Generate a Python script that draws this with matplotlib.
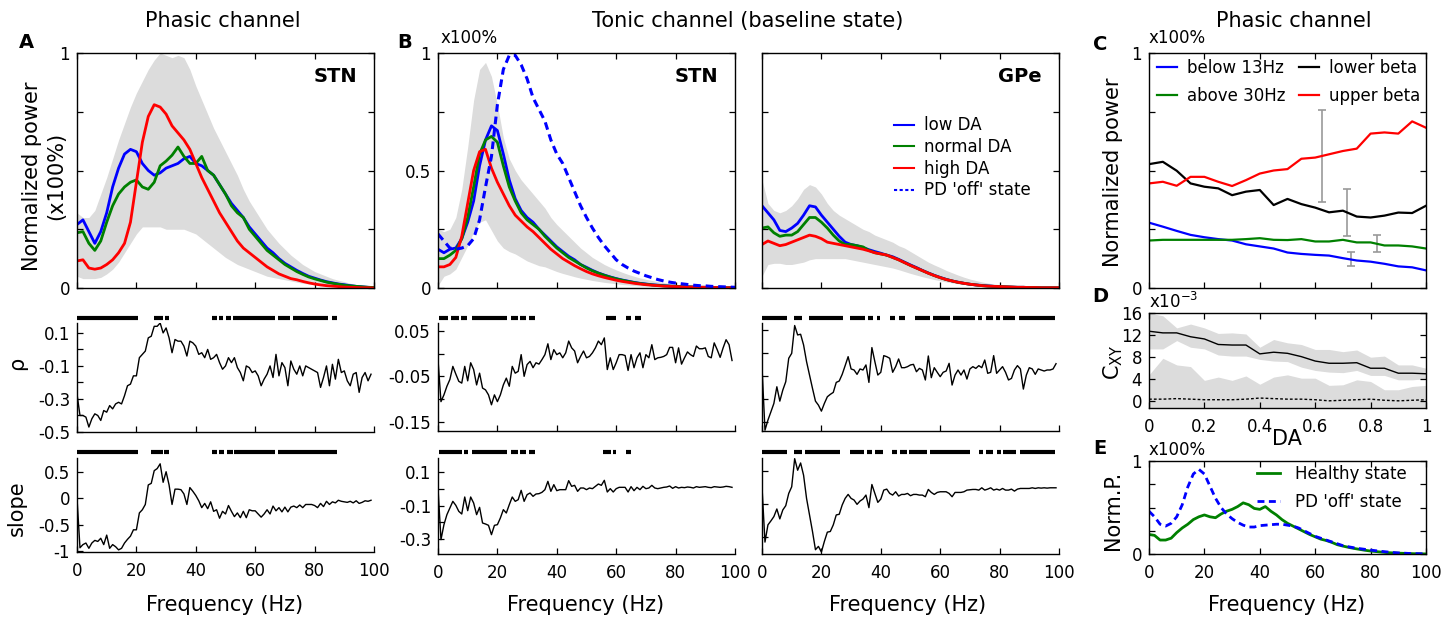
import numpy as np
import matplotlib
matplotlib.use('Agg')
import matplotlib.pyplot as plt
from matplotlib.lines import Line2D
import matplotlib.transforms as mtransforms

plt.rcParams['font.family'] = ['DejaVu Sans']
plt.rcParams['axes.unicode_minus'] = False

# ---------------- data ----------------
freq2 = np.arange(0, 101, 2)          # 2-Hz grid for spectra
freq1 = np.arange(0, 100)             # 1-Hz grid for correlations
DA = np.round(np.arange(0, 1.0001, 0.05), 2)

# Panel A (phasic, STN)
A_low = [0.27,0.29,0.24,0.19,0.24,0.32,0.43,0.51,0.57,0.59,0.58,0.53,0.50,0.48,0.49,0.51,0.52,0.53,0.55,0.56,
         0.53,0.52,0.50,0.48,0.44,0.40,0.36,0.33,0.30,0.26,0.23,0.20,0.17,0.15,0.125,0.105,0.09,0.075,0.062,0.05,
         0.042,0.034,0.027,0.022,0.017,0.014,0.01,0.007,0.005,0.003,0.002]
A_norm = [0.235,0.24,0.19,0.16,0.20,0.28,0.35,0.40,0.43,0.45,0.46,0.43,0.42,0.45,0.52,0.54,0.565,0.60,0.56,0.53,
          0.53,0.56,0.50,0.48,0.44,0.40,0.35,0.32,0.30,0.25,0.22,0.19,0.16,0.14,0.12,0.10,0.085,0.07,0.058,0.047,
          0.039,0.032,0.025,0.02,0.016,0.012,0.009,0.007,0.005,0.003,0.002]
A_high = [0.115,0.12,0.085,0.08,0.085,0.10,0.12,0.15,0.19,0.28,0.45,0.62,0.73,0.78,0.77,0.74,0.69,0.66,0.63,0.59,
          0.53,0.47,0.42,0.37,0.32,0.28,0.24,0.20,0.17,0.15,0.13,0.11,0.09,0.075,0.06,0.05,0.04,0.035,0.028,0.022,
          0.017,0.013,0.01,0.008,0.006,0.004,0.003,0.002,0.001,0.001,0.0]
A_band_hi = [0.32,0.30,0.30,0.33,0.40,0.47,0.55,0.63,0.70,0.77,0.83,0.88,0.93,0.97,1.0,0.99,0.98,0.99,0.98,0.93,
             0.86,0.80,0.74,0.68,0.63,0.58,0.53,0.48,0.42,0.37,0.33,0.29,0.25,0.22,0.19,0.165,0.14,0.12,0.10,0.085,
             0.07,0.06,0.05,0.04,0.033,0.027,0.02,0.015,0.01,0.006,0.003]
A_band_lo = [0.05,0.04,0.04,0.04,0.045,0.06,0.08,0.11,0.15,0.19,0.23,0.26,0.26,0.26,0.26,0.25,0.25,0.25,0.25,0.24,
             0.23,0.21,0.19,0.17,0.15,0.13,0.115,0.10,0.09,0.08,0.07,0.06,0.05,0.045,0.04,0.035,0.03,0.025,0.02,0.017,
             0.014,0.012,0.01,0.008,0.006,0.005,0.004,0.003,0.002,0.001,0.0]

A_rho = [-0.27,-0.40,-0.40,-0.41,-0.47,-0.42,-0.39,-0.40,-0.43,-0.37,
         -0.38,-0.34,-0.36,-0.33,-0.32,-0.33,-0.28,-0.22,-0.21,-0.16,
         -0.16,-0.05,-0.03,-0.01,0.07,0.08,0.14,0.14,0.16,0.10,
         0.13,0.07,-0.02,0.06,0.05,0.05,0.02,-0.04,0.05,0.04,
         0.02,-0.03,-0.02,-0.05,0.00,-0.06,-0.05,-0.03,-0.08,-0.12,
         -0.10,-0.05,-0.08,-0.05,-0.11,-0.14,-0.19,-0.10,-0.11,-0.14,
         -0.13,-0.16,-0.22,-0.18,-0.15,-0.10,-0.17,-0.03,-0.16,-0.08,
         -0.11,-0.22,-0.07,-0.12,-0.15,-0.10,-0.16,-0.10,-0.11,-0.12,
         -0.13,-0.14,-0.23,-0.17,-0.10,-0.22,-0.09,-0.18,-0.06,-0.14,
         -0.13,-0.19,-0.22,-0.15,-0.14,-0.26,-0.17,-0.14,-0.19,-0.15]
A_slope = [0.00,-0.94,-0.88,-0.85,-0.95,-0.85,-0.80,-0.82,-0.76,-0.88,
           -0.70,-0.95,-0.88,-0.92,-0.98,-0.95,-0.85,-0.78,-0.72,-0.60,
           -0.60,-0.28,-0.22,-0.12,0.25,0.28,0.52,0.56,0.65,0.30,
           0.50,0.25,-0.12,0.17,0.17,0.16,0.08,-0.12,0.20,0.13,
           0.05,-0.05,-0.18,-0.10,-0.20,-0.07,-0.25,-0.22,-0.38,-0.25,
           -0.30,-0.14,-0.25,-0.35,-0.28,-0.37,-0.25,-0.37,-0.22,-0.24,
           -0.24,-0.30,-0.36,-0.30,-0.22,-0.30,-0.15,-0.24,-0.18,-0.26,
           -0.17,-0.26,-0.17,-0.15,-0.18,-0.13,-0.18,-0.12,-0.12,-0.12,
           -0.14,-0.18,-0.10,-0.16,-0.06,-0.12,-0.07,-0.09,-0.04,-0.06,
           -0.07,-0.08,-0.06,-0.09,-0.05,-0.10,-0.08,-0.05,-0.06,-0.04]
A_rho_sig = [(0,20.5),(25.8,29),(29.6,31),(45.4,47),(47.8,49),(50,52),(52.6,66.6),(67.6,71.6),(72.6,84.6),(85.8,87.6)]
A_slope_sig = [(0,20.5),(24.8,28.8),(29.4,31),(45.4,47),(47.8,49.6),(50.4,52.4),(52.8,66.6),(67.6,87.6)]

# Panel B (tonic, STN)
S_low = [0.165,0.15,0.165,0.17,0.21,0.28,0.37,0.52,0.63,0.69,0.67,0.57,0.46,0.38,0.33,0.30,0.28,0.25,0.225,0.20,
         0.175,0.155,0.135,0.12,0.10,0.088,0.075,0.064,0.055,0.047,0.04,0.034,0.029,0.024,0.02,0.017,0.014,0.012,0.01,0.008,
         0.007,0.006,0.005,0.004,0.003,0.003,0.002,0.002,0.001,0.001,0.001]
S_norm = [0.125,0.125,0.14,0.16,0.21,0.30,0.43,0.57,0.63,0.645,0.62,0.52,0.43,0.37,0.32,0.29,0.27,0.25,0.22,0.195,
          0.17,0.15,0.13,0.115,0.10,0.085,0.073,0.063,0.054,0.046,0.039,0.033,0.028,0.023,0.019,0.016,0.013,0.011,0.009,0.008,
          0.007,0.006,0.005,0.004,0.003,0.003,0.002,0.002,0.001,0.001,0.001]
S_high = [0.09,0.09,0.10,0.13,0.22,0.36,0.50,0.58,0.59,0.51,0.45,0.40,0.35,0.31,0.285,0.26,0.24,0.215,0.19,0.165,
          0.145,0.125,0.11,0.095,0.082,0.07,0.06,0.052,0.045,0.039,0.033,0.028,0.024,0.02,0.017,0.014,0.012,0.01,0.008,0.007,
          0.006,0.005,0.004,0.004,0.003,0.003,0.002,0.002,0.001,0.001,0.001]
S_pd = [0.23,0.20,0.17,0.165,0.17,0.18,0.21,0.29,0.43,0.56,0.78,0.93,0.99,0.99,0.95,0.89,0.81,0.76,0.71,0.63,
        0.57,0.53,0.47,0.41,0.35,0.30,0.255,0.215,0.18,0.15,0.12,0.10,0.085,0.072,0.062,0.052,0.044,0.036,0.03,0.025,
        0.021,0.018,0.015,0.012,0.01,0.009,0.007,0.006,0.005,0.004,0.003]
S_band_hi = [0.25,0.24,0.25,0.30,0.42,0.60,0.80,0.93,0.96,0.90,0.78,0.64,0.55,0.50,0.46,0.43,0.40,0.37,0.34,0.30,
             0.27,0.245,0.22,0.195,0.17,0.15,0.13,0.115,0.10,0.088,0.077,0.067,0.058,0.05,0.043,0.037,0.032,0.027,0.023,0.019,
             0.016,0.013,0.011,0.009,0.007,0.006,0.005,0.004,0.003,0.002,0.001]
S_band_lo = [0.01,0.05,0.06,0.08,0.13,0.18,0.24,0.28,0.29,0.245,0.20,0.17,0.155,0.145,0.13,0.115,0.105,0.095,0.09,0.08,
             0.07,0.062,0.055,0.048,0.042,0.037,0.032,0.028,0.024,0.021,0.018,0.015,0.013,0.011,0.009,0.008,0.007,0.006,0.005,0.004,
             0.003,0.003,0.002,0.002,0.002,0.001,0.001,0.001,0.001,0.0,0.0]
S_rho = [-0.013,-0.106,-0.091,-0.072,-0.057,-0.028,-0.045,-0.061,-0.065,-0.028,
         -0.060,-0.020,-0.035,-0.069,-0.043,-0.076,-0.080,-0.091,-0.113,-0.091,
         -0.106,-0.091,-0.069,-0.054,-0.072,-0.028,-0.043,-0.039,-0.002,-0.050,
         -0.024,-0.017,-0.031,-0.020,-0.023,-0.013,-0.002,0.022,-0.013,0.009,
         -0.002,0.002,-0.009,0.002,0.028,0.013,0.006,-0.020,-0.006,0.006,
         -0.009,-0.006,0.002,0.013,0.028,0.020,0.035,-0.035,-0.009,-0.035,
         -0.020,-0.002,-0.002,-0.004,-0.037,-0.002,-0.031,-0.009,0.002,-0.031,
         -0.002,-0.009,0.020,-0.013,-0.009,-0.008,-0.006,-0.002,0.014,0.014,
         -0.020,0.013,-0.023,-0.009,0.004,-0.002,-0.006,0.017,0.011,0.011,
         0.013,-0.006,-0.009,0.024,0.009,-0.008,0.013,0.031,0.020,-0.015]
S_slope = [0.006,-0.304,-0.214,-0.154,-0.114,-0.074,-0.098,-0.134,-0.150,-0.048,
           -0.130,-0.048,-0.084,-0.154,-0.110,-0.204,-0.210,-0.218,-0.274,-0.218,
           -0.214,-0.174,-0.124,-0.144,-0.094,-0.048,-0.074,-0.064,-0.008,-0.074,
           -0.034,-0.024,-0.044,-0.030,-0.028,-0.020,-0.004,0.046,-0.014,0.026,
           -0.010,-0.004,-0.004,-0.004,0.050,0.016,0.022,-0.014,0.006,0.006,
           -0.004,0.006,0.002,0.016,0.030,0.022,0.052,-0.018,0.002,-0.018,
           0.002,0.010,0.010,0.010,-0.018,0.014,-0.010,0.010,-0.004,0.016,
           0.002,0.006,0.022,0.006,0.002,0.006,0.010,0.012,0.018,0.004,
           0.014,0.006,0.010,0.008,0.012,0.010,0.006,0.014,0.010,0.012,
           0.014,0.010,0.008,0.014,0.012,0.010,0.012,0.016,0.014,0.010]
S_rho_sig = [(0.3,3.2),(4.3,7.1),(7.7,9.6),(11.4,23.4),(24.5,26.8),(27.6,29.6),(30.5,32.8),(56.4,60),(63.4,65.1),(66.2,68.2)]
S_slope_sig = [(0.3,8.2),(8.8,10.2),(11.4,23.4),(24.5,26.8),(27.6,29.6),(30.5,32.8),(55.7,58.3),(58.9,60),(63.2,65.1)]

# Panel B (tonic, GPe)
G_low = [0.35,0.32,0.29,0.245,0.24,0.255,0.275,0.31,0.35,0.345,0.31,0.28,0.25,0.22,0.195,0.185,0.18,0.172,0.163,0.155,
         0.148,0.14,0.133,0.122,0.11,0.098,0.087,0.075,0.064,0.054,0.045,0.037,0.03,0.025,0.02,0.016,0.013,0.011,0.009,0.007,
         0.006,0.005,0.004,0.003,0.003,0.002,0.002,0.001,0.001,0.001,0.001]
G_norm = [0.255,0.26,0.235,0.22,0.225,0.225,0.24,0.27,0.30,0.30,0.28,0.255,0.225,0.20,0.185,0.185,0.18,0.175,0.16,0.15,
          0.145,0.14,0.13,0.12,0.108,0.096,0.085,0.074,0.063,0.053,0.044,0.036,0.03,0.024,0.02,0.016,0.013,0.01,0.008,0.007,
          0.006,0.005,0.004,0.003,0.003,0.002,0.002,0.001,0.001,0.001,0.001]
G_high = [0.185,0.20,0.19,0.18,0.185,0.195,0.205,0.215,0.225,0.22,0.21,0.195,0.19,0.185,0.18,0.175,0.17,0.165,0.158,0.15,
          0.145,0.14,0.13,0.12,0.108,0.096,0.085,0.074,0.063,0.053,0.044,0.036,0.03,0.024,0.02,0.016,0.013,0.01,0.008,0.007,
          0.006,0.005,0.004,0.003,0.003,0.002,0.002,0.001,0.001,0.001,0.001]
G_band_hi = [0.46,0.36,0.33,0.32,0.33,0.35,0.38,0.42,0.44,0.43,0.40,0.36,0.33,0.31,0.295,0.28,0.265,0.25,0.24,0.225,
             0.215,0.205,0.195,0.18,0.17,0.155,0.14,0.125,0.11,0.098,0.087,0.075,0.065,0.055,0.046,0.038,0.032,0.026,0.021,0.017,
             0.014,0.011,0.009,0.007,0.006,0.005,0.004,0.003,0.002,0.002,0.001]
G_band_lo = [0.05,0.10,0.105,0.105,0.10,0.10,0.105,0.11,0.12,0.125,0.125,0.125,0.125,0.125,0.125,0.12,0.115,0.11,0.105,0.10,
             0.095,0.09,0.085,0.078,0.07,0.062,0.055,0.048,0.042,0.036,0.031,0.026,0.022,0.018,0.015,0.012,0.01,0.008,0.006,0.005,
             0.004,0.003,0.003,0.002,0.002,0.001,0.001,0.001,0.0,0.0,0.0]
G_rho = [0.080,-0.473,-0.385,-0.313,-0.240,-0.095,-0.220,-0.124,-0.051,0.153,
         0.196,0.438,0.356,0.362,0.269,0.124,0.007,-0.109,-0.220,-0.255,
         -0.307,-0.240,-0.182,-0.161,-0.144,-0.057,-0.045,0.013,0.089,0.167,
         0.060,0.051,0.013,0.060,0.051,0.095,-0.057,0.246,0.124,0.007,
         0.031,0.176,0.167,0.153,0.031,0.080,0.147,0.071,0.071,0.080,
         0.095,0.100,0.036,0.065,0.051,-0.036,0.173,-0.016,0.071,0.031,
         -0.007,0.031,0.042,0.109,-0.080,0.007,0.051,0.007,0.051,-0.028,
         0.060,0.080,0.065,0.089,0.071,0.138,0.022,0.031,0.176,0.022,
         0.051,0.080,0.031,-0.036,-0.022,0.051,0.089,0.060,-0.115,0.007,
         0.071,0.060,0.013,0.060,0.051,0.042,0.051,0.051,0.060,0.106]
G_slope = [0.006,-0.328,-0.224,-0.200,-0.174,-0.128,-0.188,-0.134,-0.108,-0.034,
           0.006,0.176,0.106,0.150,0.076,-0.064,-0.164,-0.264,-0.374,-0.354,
           -0.388,-0.324,-0.268,-0.264,-0.224,-0.164,-0.160,-0.104,-0.064,-0.040,
           -0.064,-0.074,-0.100,-0.080,-0.068,-0.044,-0.120,0.020,-0.034,-0.088,
           -0.068,-0.014,-0.008,-0.034,-0.044,-0.024,-0.050,-0.040,-0.040,-0.034,
           -0.048,-0.040,-0.040,-0.044,-0.044,-0.054,-0.010,-0.028,-0.040,-0.028,
           -0.024,-0.024,-0.024,-0.034,-0.054,-0.028,-0.028,-0.028,-0.024,-0.014,
           -0.012,-0.010,-0.010,-0.014,0.000,-0.014,-0.008,0.000,-0.014,-0.008,
           -0.014,-0.004,-0.014,-0.014,-0.008,-0.020,-0.008,-0.004,-0.004,-0.004,
           -0.004,0.000,-0.004,0.000,-0.002,0.000,-0.002,0.000,0.000,0.000]
G_rho_sig = [(0,8.4),(10.9,13.4),(15.7,27.4),(29.7,34.7),(35.8,37.3),(38.6,39.8),(43.1,44.8),(46.2,48.2),(51.5,56.6),
             (57.7,63.3),(64.4,71.7),(72.8,74.2),(75.4,77.8),(78.7,80.1),(81.2,85.1),(86.6,98.5)]
G_slope_sig = [(0,8.4),(10.9,13.4),(14.6,26.3),(29.7,34.4),(35.2,37),(38.2,40.6),(43.8,45.5),(46.3,48.8),(49.4,55.4),
               (56.6,70),(73.1,74.5),(75.4,77.8),(79,80.6),(81.2,85.5),(86.8,98.5)]

# Panel C (power vs DA)
C_below13 = [0.278,0.261,0.243,0.226,0.216,0.208,0.202,0.186,0.177,0.168,0.151,0.145,0.141,0.138,0.127,0.117,0.112,0.103,0.092,0.088,0.075]
C_above30 = [0.202,0.205,0.205,0.205,0.205,0.205,0.205,0.208,0.212,0.205,0.204,0.208,0.198,0.198,0.205,0.194,0.194,0.181,0.181,0.177,0.168]
C_lowbeta = [0.527,0.537,0.499,0.445,0.431,0.424,0.395,0.410,0.417,0.353,0.379,0.357,0.342,0.322,0.329,0.304,0.300,0.308,0.321,0.319,0.350]
C_upbeta = [0.445,0.452,0.435,0.473,0.473,0.452,0.434,0.459,0.487,0.500,0.506,0.550,0.555,0.569,0.583,0.593,0.657,0.662,0.657,0.709,0.682]
C_err_x = [0.626, 0.714, 0.728, 0.822]
C_err_lo = [0.367, 0.222, 0.092, 0.153]
C_err_hi = [0.758, 0.422, 0.155, 0.226]

# Panel D (coherence vs DA, x1e-3)
D_mean = [12.7,12.4,12.4,11.7,11.3,10.3,10.2,10.2,8.6,8.9,8.7,8.1,7.3,6.9,6.9,7.0,6.0,6.0,5.1,5.1,5.0]
D_hi = [16.0,15.5,13.3,14.0,13.3,12.3,12.4,12.2,9.8,11.2,10.6,10.3,9.4,9.4,9.0,9.3,8.0,8.2,6.6,6.6,6.0]
D_lo = [9.5,9.5,11.0,9.8,9.5,8.4,8.2,8.2,7.6,7.3,7.2,6.2,5.6,5.3,5.2,5.6,4.7,4.7,3.9,3.9,4.1]
D_ctrl_hi = [4.8,7.8,6.6,6.3,3.8,4.4,3.8,4.6,3.1,4.4,4.8,4.2,4.2,2.9,3.0,3.9,3.6,2.1,2.1,2.7,2.9]
D_ctrl = [0.4,0.4,0.5,0.4,0.3,0.3,0.3,0.4,0.6,0.5,0.4,0.4,0.3,0.1,0.2,0.3,0.4,0.2,0.1,0.2,0.3]

# Panel E
E_healthy = [0.21,0.20,0.15,0.15,0.17,0.23,0.28,0.32,0.37,0.40,0.42,0.40,0.39,0.43,0.46,0.48,0.51,0.55,0.53,0.49,
             0.48,0.51,0.46,0.42,0.37,0.33,0.30,0.27,0.24,0.21,0.185,0.16,0.145,0.125,0.10,0.085,0.072,0.06,0.05,0.04,
             0.032,0.026,0.02,0.015,0.012,0.009,0.007,0.005,0.003,0.002,0.001]
E_pd = [0.46,0.40,0.32,0.30,0.33,0.40,0.53,0.72,0.86,0.91,0.86,0.73,0.60,0.50,0.43,0.38,0.34,0.31,0.29,0.29,
        0.305,0.31,0.315,0.32,0.32,0.31,0.30,0.28,0.25,0.22,0.19,0.17,0.15,0.13,0.11,0.09,0.078,0.067,0.058,0.05,
        0.042,0.035,0.028,0.022,0.016,0.012,0.009,0.006,0.004,0.003,0.002]

# ---------------- style ----------------
BLUE, GREEN, RED = '#0000ff', '#008000', '#ff0000'
BAND = '#dcdcdc'
TICK_FS = 12
LAB_FS = 15
LEG_FS = 12
W, H = 1447, 618
fig = plt.figure(figsize=(W / 100, H / 100), dpi=100)


def rect(l, t, r, b):
    return [l / W, 1 - b / H, (r - l) / W, (b - t) / H]


def style_ticks(ax, box):
    ax.tick_params(which='both', direction='in', top=box, right=box,
                   length=4, width=0.9, labelsize=TICK_FS)
    ax.tick_params(axis='y', pad=5)
    ax.tick_params(axis='x', pad=7)


def box_axes(r):
    ax = fig.add_axes(r)
    for s in ax.spines.values():
        s.set_linewidth(1.0)
    style_ticks(ax, True)
    return ax


def open_axes(r):
    ax = fig.add_axes(r)
    ax.spines['top'].set_visible(False)
    ax.spines['right'].set_visible(False)
    for s in ax.spines.values():
        s.set_linewidth(1.0)
    style_ticks(ax, False)
    return ax


def sigbars(ax, segs, yax):
    tr = mtransforms.blended_transform_factory(ax.transData, ax.transAxes)
    for a, b in segs:
        ax.plot([a, b], [yax, yax], transform=tr, color='k', lw=3,
                solid_capstyle='butt', clip_on=False)


def power_axes(r, ylabels):
    ax = box_axes(r)
    ax.set_xlim(0, 100)
    ax.set_ylim(0, 1)
    ax.set_xticks([0, 20, 40, 60, 80, 100])
    ax.set_xticklabels([])
    ax.set_yticks([0, 0.25, 0.5, 0.75, 1])
    ax.set_yticklabels(ylabels)
    return ax


def corr_axes(r, ylim, yticks, ylabels, xlabels):
    ax = open_axes(r)
    ax.set_xlim(0, 100)
    ax.set_ylim(*ylim)
    ax.set_xticks([0, 20, 40, 60, 80, 100])
    if xlabels:
        ax.set_xticklabels(['0', '20', '40', '60', '80', '100'])
    else:
        ax.set_xticklabels([])
    ax.set_yticks(yticks)
    ax.set_yticklabels(ylabels)
    return ax


# ---------------- Panel A ----------------
axA = power_axes(rect(77, 53, 374, 288), ['0', '', '', '', '1'])
axA.fill_between(freq2, A_band_lo, A_band_hi, color=BAND, lw=0)
axA.plot(freq2, A_low, color=BLUE, lw=2)
axA.plot(freq2, A_norm, color=GREEN, lw=2)
axA.plot(freq2, A_high, color=RED, lw=2)
axA.text(0.943, 0.898, 'STN', transform=axA.transAxes, ha='right', va='center',
         fontsize=14, fontweight='bold')

axAr = corr_axes(rect(77, 323, 374, 432), (-0.5, 0.16),
                 [-0.5, -0.4, -0.3, -0.2, -0.1, 0, 0.1],
                 ['-0.5', '', '-0.3', '', '-0.1', '', '0.1'], False)
axAr.plot(freq1, A_rho, color='k', lw=1)
sigbars(axAr, A_rho_sig, 1.046)

axAs = corr_axes(rect(77, 458, 374, 552), (-1.02, 0.76),
                 [-1, -0.5, 0, 0.5], ['-1', '-0.5', '0', '0.5'], True)
axAs.plot(freq1, A_slope, color='k', lw=1)
sigbars(axAs, A_slope_sig, 1.064)

# ---------------- Panel B: STN ----------------
axS = power_axes(rect(438, 53, 735, 288), ['0', '', '0.5', '', '1'])
axS.fill_between(freq2, S_band_lo, S_band_hi, color=BAND, lw=0)
axS.plot(freq2, S_low, color=BLUE, lw=2)
axS.plot(freq2, S_norm, color=GREEN, lw=2)
axS.plot(freq2, S_high, color=RED, lw=2)
axS.plot(freq2, S_pd, color=BLUE, lw=2.2, ls=(0, (2.5, 1.6)))
axS.text(0.943, 0.898, 'STN', transform=axS.transAxes, ha='right', va='center',
         fontsize=14, fontweight='bold')

axSr = corr_axes(rect(438, 323, 735, 431), (-0.171, 0.068),
                 [-0.15, -0.1, -0.05, 0, 0.05],
                 ['-0.15', '', '-0.05', '', '0.05'], False)
axSr.plot(freq1, S_rho, color='k', lw=1)
sigbars(axSr, S_rho_sig, 1.046)

axSs = corr_axes(rect(438, 458, 735, 554), (-0.39, 0.186),
                 [-0.3, -0.2, -0.1, 0, 0.1], ['-0.3', '', '-0.1', '', '0.1'], True)
axSs.plot(freq1, S_slope, color='k', lw=1)
sigbars(axSs, S_slope_sig, 1.064)

# ---------------- Panel B: GPe ----------------
axG = power_axes(rect(762, 53, 1059, 288), ['', '', '', '', ''])
axG.fill_between(freq2, G_band_lo, G_band_hi, color=BAND, lw=0)
axG.plot(freq2, G_low, color=BLUE, lw=2)
axG.plot(freq2, G_norm, color=GREEN, lw=2)
axG.plot(freq2, G_high, color=RED, lw=2)
axG.text(0.943, 0.898, 'GPe', transform=axG.transAxes, ha='right', va='center',
         fontsize=14, fontweight='bold')
hG = [Line2D([], [], color=BLUE, lw=1.5), Line2D([], [], color=GREEN, lw=1.5),
      Line2D([], [], color=RED, lw=1.5), Line2D([], [], color=BLUE, lw=1.5, ls=(0, (1.5, 1.2)))]
axG.legend(hG, ['low DA', 'normal DA', 'high DA', "PD 'off' state"], loc='upper left',
           bbox_to_anchor=(0.445, 0.73), frameon=False, fontsize=LEG_FS, handlelength=1.2,
           handletextpad=0.6, labelspacing=0.22, borderpad=0, borderaxespad=0)

axGr = corr_axes(rect(762, 323, 1059, 431), (-0.48, 0.46),
                 [-0.4, -0.2, 0, 0.2, 0.4], ['', '', '', '', ''], False)
axGr.plot(freq1, G_rho, color='k', lw=1)
sigbars(axGr, G_rho_sig, 1.046)

axGs = corr_axes(rect(762, 458, 1059, 554), (-0.40, 0.18),
                 [-0.3, -0.1, 0.1], ['', '', ''], True)
axGs.plot(freq1, G_slope, color='k', lw=1)
sigbars(axGs, G_slope_sig, 1.064)

# ---------------- Panel C ----------------
axC = box_axes(rect(1149, 53, 1426, 288))
axC.set_xlim(0, 1)
axC.set_ylim(0, 1)
axC.set_xticks([0, 0.2, 0.4, 0.6, 0.8, 1])
axC.set_xticklabels([])
axC.set_yticks([0, 0.25, 0.5, 0.75, 1])
axC.set_yticklabels(['0', '', '', '', '1'])
err_c = [(lo + hi) / 2 for lo, hi in zip(C_err_lo, C_err_hi)]
err_h = [(hi - lo) / 2 for lo, hi in zip(C_err_lo, C_err_hi)]
axC.errorbar(C_err_x, err_c, yerr=err_h, fmt='none', ecolor='#999999', elinewidth=1.2,
             capsize=3, capthick=1.2, zorder=1)
l1, = axC.plot(DA, C_below13, color=BLUE, lw=1.6)
l2, = axC.plot(DA, C_above30, color=GREEN, lw=1.6)
l3, = axC.plot(DA, C_lowbeta, color='k', lw=1.6)
l4, = axC.plot(DA, C_upbeta, color=RED, lw=1.6)
axC.legend([l1, l2, l3, l4], ['below 13Hz', 'above 30Hz', 'lower beta', 'upper beta'],
           ncol=2, loc='upper left', bbox_to_anchor=(0.03, 0.975), frameon=False,
           fontsize=LEG_FS, handlelength=1.2, handletextpad=0.6, labelspacing=0.6,
           columnspacing=0.8, borderpad=0, borderaxespad=0)

# ---------------- Panel D ----------------
axD = box_axes(rect(1149, 313, 1426, 408))
axD.set_xlim(0, 1)
axD.set_ylim(-1.2, 16)
axD.fill_between(DA, -1.2, D_ctrl_hi, color=BAND, lw=0)
axD.fill_between(DA, D_lo, D_hi, color=BAND, lw=0)
axD.plot(DA, D_mean, color='k', lw=1)
axD.plot(DA, D_ctrl, color='k', lw=1, ls=(0, (2, 1.5)))
axD.set_yticks([0, 4, 8, 12, 16])
axD.set_yticklabels(['0', '4', '8', '12', '16'])
axD.set_xticks([0, 0.2, 0.4, 0.6, 0.8, 1])
axD.set_xticklabels(['0', '0.2', '0.4', '0.6', '0.8', '1'])

# ---------------- Panel E ----------------
axE = box_axes(rect(1149, 461, 1426, 554))
axE.set_xlim(0, 100)
axE.set_ylim(0, 1)
le1, = axE.plot(freq2, E_healthy, color=GREEN, lw=2)
le2, = axE.plot(freq2, E_pd, color=BLUE, lw=2, ls=(0, (2.5, 1.6)))
axE.set_yticks([0, 0.25, 0.5, 0.75, 1])
axE.set_yticklabels(['0', '', '', '', '1'])
axE.set_xticks([0, 20, 40, 60, 80, 100])
axE.set_xticklabels(['0', '20', '40', '60', '80', '100'])
axE.legend([le1, le2], ['Healthy state', "PD 'off' state"], loc='upper left',
           bbox_to_anchor=(0.39, 0.96), frameon=False, fontsize=LEG_FS, handlelength=1.4,
           handletextpad=0.9, labelspacing=0.6, borderpad=0, borderaxespad=0)

# ---------------- texts ----------------
def ft(x, y, s, **kw):
    fig.text(x / W, 1 - y / H, s, **kw)

ft(223, 21, 'Phasic channel', ha='center', va='center', fontsize=LAB_FS)
ft(748, 21, 'Tonic channel (baseline state)', ha='center', va='center', fontsize=LAB_FS)
ft(1294, 21, 'Phasic channel', ha='center', va='center', fontsize=LAB_FS)

for x, y, s in [(26, 43, 'A'), (405, 43, 'B'), (1100, 44, 'C'), (1100, 297, 'D'), (1100, 449, 'E')]:
    ft(x, y, s, ha='center', va='center', fontsize=14, fontweight='bold')

ft(441, 38, 'x100%', ha='left', va='center', fontsize=12)
ft(1149, 38, 'x100%', ha='left', va='center', fontsize=12)
ft(1149, 450, 'x100%', ha='left', va='center', fontsize=12)
ft(1149, 302, r'x10$^{\mathregular{-3}}$', ha='left', va='center', fontsize=12)

ft(44, 176, 'Normalized power\n(x100%)', ha='center', va='center', rotation=90,
   fontsize=LAB_FS, linespacing=1.25, multialignment='center')
ft(17, 363, 'ρ', ha='center', va='center', rotation=90, fontsize=LAB_FS)
ft(17, 508, 'slope', ha='center', va='center', rotation=90, fontsize=LAB_FS)
ft(1113, 172, 'Normalized power', ha='center', va='center', rotation=90, fontsize=LAB_FS)
ft(1113, 362, r'C$_{\mathregular{XY}}$', ha='center', va='center', rotation=90, fontsize=LAB_FS)
ft(1113, 510, 'Norm.P.', ha='center', va='center', rotation=90, fontsize=LAB_FS)

ft(225, 605, 'Frequency (Hz)', ha='center', va='center', fontsize=LAB_FS)
ft(586, 605, 'Frequency (Hz)', ha='center', va='center', fontsize=LAB_FS)
ft(908, 605, 'Frequency (Hz)', ha='center', va='center', fontsize=LAB_FS)
ft(1287, 605, 'Frequency (Hz)', ha='center', va='center', fontsize=LAB_FS)
ft(1287, 439, 'DA', ha='center', va='center', fontsize=LAB_FS)

fig.savefig('out.png', dpi=100)
